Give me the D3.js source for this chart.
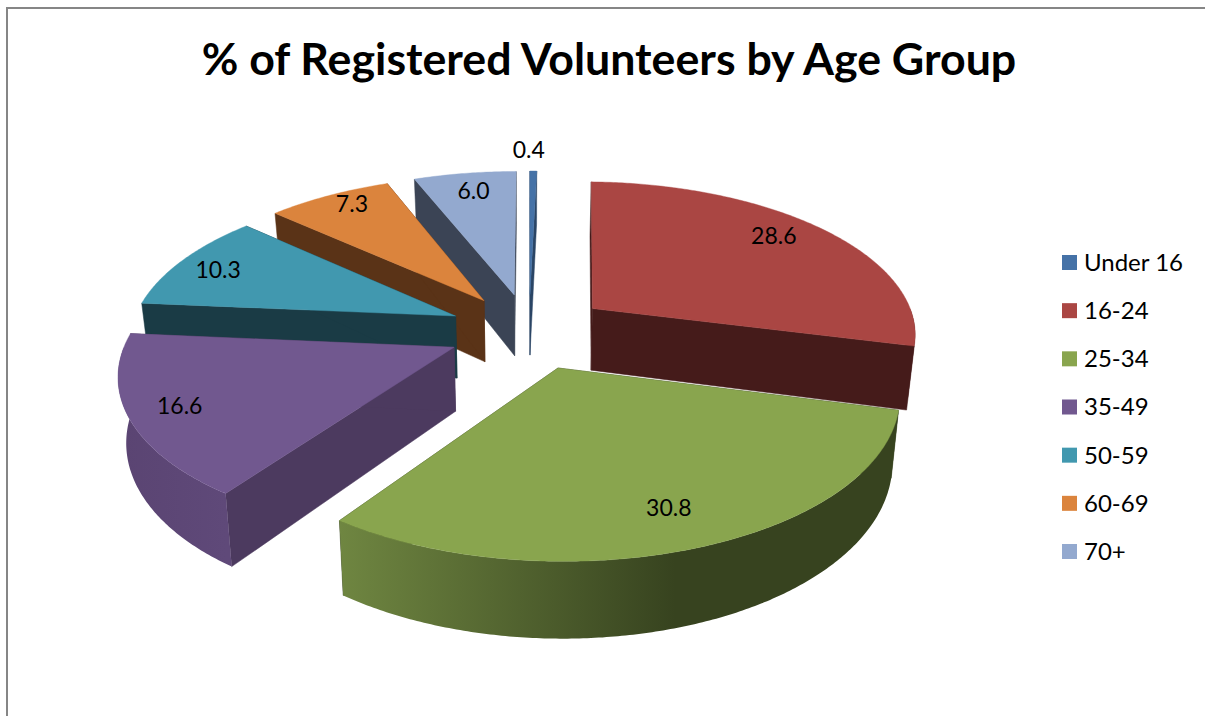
<!DOCTYPE html>
<html><head><meta charset="utf-8">
<script src="https://cdn.jsdelivr.net/npm/d3@7/dist/d3.min.js"></script>
<style>html,body{margin:0;padding:0;background:#fff;overflow:hidden}svg{display:block}text{font-family:Lato,"Open Sans",sans-serif;fill:#000}</style>
</head><body><svg id="c" width="1205" height="716"></svg>
<script>
const categories=["Under 16","16-24","25-34","35-49","50-59","60-69","70+"];
const values=[0.4,28.6,30.8,16.6,10.3,7.3,6.0];
const labels=["0.4","28.6","30.8","16.6","10.3","7.3","6.0"];
const topColors=["#4572a7","#aa4643","#89a54e","#71588f","#4198af","#db843d","#93a9cf"];
const wallColors=["#2a4565","#451b1a","#37431f","#4c3a5f","#1a3b45","#5a3317","#3b4455"];
const arcLeft=["#4572a7","#451b1a","#6f8641","#5a4472","#2b6677","#8e5527","#66758f"];
const arcRight=["#2a4565","#451b1a","#37431f","#5f4979","#1a3b45","#5a3317","#3b4455"];
const paintOrder=[6,0,5,4,1,3,2];
const labelRadius=[1.17,0.75,0.85,0.89,0.81,0.82,0.87];
const labelNudgeX=[-7,5,-8,11,-16,-4,1];
const labelNudgeY=[-3,-11,-9,-3,0,-9,3];

const width=1205,height=716;
const cam={cx:529,cy:331,A:325,B:152,p:0.15,depth:63,shrink:0.98,explode:0.25};
const svg=d3.select("#c");
const defs=svg.append("defs");

svg.append("rect").attr("x",7).attr("y",8).attr("width",width+20).attr("height",height+20)
  .attr("fill","none").attr("stroke","#868686").attr("stroke-width",2);

svg.append("text").attr("x",609).attr("y",75).attr("text-anchor","middle")
  .attr("font-size",44.7).attr("font-weight",700).text("% of Registered Volunteers by Age Group");

const arcs=d3.pie().sort(null).value(d=>d)(values);
const line=d3.line();

function project(px,py,low){
  const w=1+cam.p*py;
  let x=cam.A*px/w, y=-cam.B*py/w;
  if(low){x*=cam.shrink; y+=cam.depth/w;}
  return [cam.cx+x,cam.cy+y];
}
function rim(a,ox,oy,r=1){return [ox+r*Math.sin(a),oy+r*Math.cos(a)];}

paintOrder.forEach(i=>{
  const s=arcs[i];
  const mid=(s.startAngle+s.endAngle)/2;
  const ox=cam.explode*Math.sin(mid), oy=cam.explode*Math.cos(mid);
  const n=Math.max(2,Math.ceil((s.endAngle-s.startAngle)/0.01));
  const angles=d3.range(n+1).map(k=>s.startAngle+(s.endAngle-s.startAngle)*k/n);
  const rimPts=angles.map(a=>rim(a,ox,oy));
  const g=svg.append("g");

  const wall=(a)=>{
    const e=rim(a,ox,oy);
    g.append("path").attr("fill",wallColors[i]).attr("stroke",wallColors[i]).attr("stroke-width",0.5)
      .attr("d",line([project(ox,oy,false),project(e[0],e[1],false),project(e[0],e[1],true),project(ox,oy,true)])+"Z");
  };
  wall(s.startAngle); wall(s.endAngle);

  // outer curved wall: only the part of the rim that faces the viewer
  const front=angles.filter(a=>Math.cos(a)<0).map(a=>rim(a,ox,oy));
  if(front.length>1){
    const upper=front.map(p=>project(p[0],p[1],false));
    const lower=front.map(p=>project(p[0],p[1],true)).reverse();
    const xs=upper.map(p=>p[0]);
    const gid="grad"+i;
    const lg=defs.append("linearGradient").attr("id",gid).attr("gradientUnits","userSpaceOnUse")
      .attr("x1",d3.min(xs)).attr("x2",d3.min(xs)+(d3.max(xs)-d3.min(xs))*(i===2?0.6:1)).attr("y1",0).attr("y2",0);
    lg.append("stop").attr("offset",0).attr("stop-color",arcLeft[i]);
    lg.append("stop").attr("offset",1).attr("stop-color",arcRight[i]);
    g.append("path").attr("fill",`url(#${gid})`).attr("d",line(upper.concat(lower))+"Z");
  }

  g.append("path").attr("fill",topColors[i]).attr("stroke",topColors[i]).attr("stroke-width",0.4)
    .attr("d",line([project(ox,oy,false)].concat(rimPts.map(p=>project(p[0],p[1],false))))+"Z");
});

arcs.forEach((s,i)=>{
  const mid=(s.startAngle+s.endAngle)/2;
  const ox=cam.explode*Math.sin(mid), oy=cam.explode*Math.cos(mid);
  const p=rim(mid,ox,oy,labelRadius[i]);
  const q=project(p[0],p[1],false);
  svg.append("text").attr("x",q[0]+labelNudgeX[i]+2).attr("y",q[1]+labelNudgeY[i]).attr("dy","0.35em").attr("text-anchor","middle")
    .attr("font-size",23).text(labels[i]);
});

const legendY=d3.scalePoint().domain(categories).range([262.5,551.5]);
const lg=svg.append("g");
categories.forEach((c,i)=>{
  lg.append("rect").attr("x",1062).attr("y",legendY(c)-7.5).attr("width",15).attr("height",15).attr("fill",topColors[i]);
  lg.append("text").attr("x",1084).attr("y",legendY(c)).attr("dy","0.35em").attr("font-size",24).text(c);
});
</script></body></html>
